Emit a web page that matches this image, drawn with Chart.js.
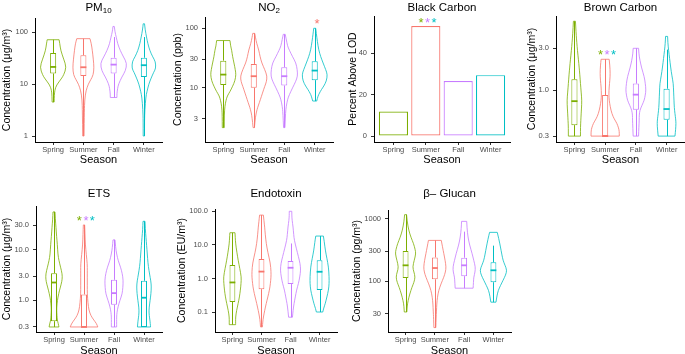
<!DOCTYPE html>
<html>
<head>
<meta charset="utf-8">
<script src="https://cdn.jsdelivr.net/npm/chart.js@4.4.0/dist/chart.umd.min.js"></script>
<style>
html, body { margin: 0; padding: 0; background: #fff; }
#wrap { position: relative; width: 685px; height: 354px; overflow: hidden; }
#wrap canvas { position: absolute; }
</style>
</head>
<body>
<div id="wrap"></div>
<script>
const SEASONS = ['Spring', 'Summer', 'Fall', 'Winter'];
const SEASON_COLORS = ['#7CAE00', '#F8766D', '#C77CFF', '#00BFC4'];

// boxes: [lower whisker, q1, median, q3, upper whisker] per season
// violins: [value, density] pairs from top to bottom, per season
// stars: [x position, value, colour index]

const PM10_TICKS = [1, 10, 100];
const PM10_TICK_LABELS = ['1', '10', '100'];
const PM10_BOXES = [[4.5, 15.9, 21.3, 39.5, 71], [1, 14.3, 21, 35.7, 74.5], [5.5, 16, 23.6, 32, 80], [1, 13.7, 23, 32, 80]];
const PM10_VIOLINS = [
    [[71, 18], [60, 20], [44, 23], [30, 32], [21, 40], [15, 32], [12.7, 25], [9.5, 10], [7.6, 5], [6, 3.5], [4.5, 3]],
    [[74.5, 20], [60, 24], [44, 27], [30, 30], [21, 32], [15, 30], [12, 22], [10, 15], [7.5, 8], [5, 4], [3, 3], [1, 2]],
    [[128, 2], [100, 4], [80, 8], [60, 12], [44, 20], [33, 30], [25, 40], [18, 36], [13.7, 25], [10, 15], [8.2, 12], [6.5, 10], [5.5, 10]],
    [[144, 2], [110, 4], [80, 8], [60, 12], [44, 18], [33, 27], [27, 35], [20, 36], [17, 30], [13, 22], [10, 15], [7, 9], [5.6, 6], [3.2, 3], [2, 2], [1, 2]]
];

const NO2_TICKS = [3, 10, 30, 100];
const NO2_TICK_LABELS = ['3', '10', '30', '100'];
const NO2_BOXES = [[2.1, 11, 16.5, 28.4, 62], [2.1, 9.9, 15.5, 25, 82], [2.1, 10.8, 15.5, 22, 79], [5.9, 13.3, 19.3, 27.6, 100]];
const NO2_VIOLINS = [
    [[62, 20], [50, 22], [43, 25], [33, 28], [26, 32], [20, 36], [16.5, 38], [13, 35], [10.5, 28], [8.5, 20], [7.2, 12], [6, 8], [4.9, 5], [3.5, 3], [2.1, 3]],
    [[82, 3], [70, 5], [55, 9], [43, 15], [33, 19], [26, 24], [20, 33], [15.5, 40], [12.5, 38], [10.5, 33], [8, 26], [6.3, 20], [5, 14], [4.3, 10], [3.2, 5], [2.1, 2]],
    [[79, 3], [65, 6], [50, 10], [43, 15], [33, 25], [26, 35], [20, 39], [15.5, 40], [12.5, 34], [9.9, 25], [7.5, 15], [6.3, 10], [4.8, 6], [3.8, 4], [2.1, 2]],
    [[100, 3], [80, 5], [60, 8], [43, 12], [33, 18], [26, 25], [20, 33], [16.5, 38], [12.8, 35], [10.5, 27], [9.2, 20], [8, 14], [7.2, 10], [5.9, 6]]
];
const NO2_STARS = [[4.08, 138, 1]];

const BC_TICKS = [0, 20, 40];
const BC_TICK_LABELS = ['0', '20', '40'];
const BC_PERCENT = [11.8, 53.2, 26.6, 29.4];
const BC_STARS = [[1.85, 56.6, 0], [2.05, 56.6, 2], [2.25, 56.6, 3]];

const BRC_TICKS = [0.3, 1, 3];
const BRC_TICK_LABELS = ['0.3', '1.0', '3.0'];
const BRC_BOXES = [[0.3, 0.4, 0.75, 1.33, 6.1], [0.3, 0.3, 0.3, 0.88, 2.25], [0.3, 0.6, 0.89, 1.19, 3.0], [0.3, 0.46, 0.61, 1.04, 2.9]];
const BRC_VIOLINS = [
    [[6.1, 3], [4.4, 5], [3.5, 7], [2.85, 9], [2.2, 12], [1.84, 14], [1.5, 16], [1.19, 18], [0.95, 20], [0.77, 22], [0.62, 21], [0.54, 20], [0.45, 19], [0.38, 18], [0.3, 18]],
    [[2.25, 12], [1.9, 14], [1.55, 15], [1.3, 14], [1.09, 12], [0.9, 11], [0.77, 12], [0.65, 15], [0.54, 20], [0.47, 27], [0.42, 35], [0.37, 40], [0.34, 42], [0.3, 42]],
    [[3.0, 8], [2.6, 9], [2.2, 12], [1.8, 17], [1.42, 25], [1.2, 28], [1.0, 30], [0.88, 28], [0.77, 25], [0.67, 18], [0.59, 12], [0.52, 10], [0.46, 10], [0.38, 9], [0.3, 8]],
    [[4.1, 3], [3.4, 4], [2.85, 6], [2.3, 9], [1.84, 12], [1.45, 16], [1.19, 20], [0.95, 21], [0.77, 22], [0.63, 23], [0.54, 25], [0.47, 27], [0.42, 28], [0.36, 27], [0.3, 25]]
];
const BRC_STARS = [[1.85, 2.8, 0], [2.06, 2.8, 2], [2.27, 2.8, 3]];

const ETS_TICKS = [0.3, 1, 3, 10, 30];
const ETS_TICK_LABELS = ['0.3', '1.0', '3.0', '10.0', '30.0'];
const ETS_BOXES = [[0.3, 0.39, 2.25, 3.43, 55], [0.3, 0.3, 0.3, 1.31, 30.5], [0.3, 0.82, 1.39, 2.54, 15.5], [0.3, 0.3, 1.13, 2.43, 36]];
const ETS_VIOLINS = [
    [[55, 3], [40, 4], [27.4, 6], [18, 8], [12.9, 10], [8, 12], [6.1, 15], [4.5, 20], [3.3, 25], [2.6, 25], [2.1, 22], [1.6, 17], [1.16, 12], [0.85, 9], [0.64, 8], [0.5, 9], [0.41, 10], [0.35, 13], [0.3, 15]],
    [[30.5, 2], [20, 3], [12.9, 4], [8, 7], [5.2, 10], [3.8, 10], [2.9, 10], [2, 10], [1.35, 10], [0.9, 12], [0.64, 15], [0.5, 21], [0.41, 30], [0.35, 38], [0.3, 42]],
    [[15.5, 3], [11, 5], [8.2, 8], [6, 13], [4.5, 20], [3.4, 25], [2.5, 28], [1.8, 27], [1.35, 25], [1.0, 18], [0.74, 12], [0.58, 9], [0.47, 8], [0.38, 8], [0.3, 8]],
    [[36, 3], [25, 4], [17.4, 6], [12, 8], [8.2, 10], [5.5, 12], [3.9, 15], [2.8, 19], [2.1, 22], [1.6, 22], [1.16, 20], [0.85, 17], [0.64, 15], [0.5, 16], [0.41, 18], [0.35, 19], [0.3, 20]]
];
const ETS_STARS = [[1.84, 44, 0], [2.07, 44, 2], [2.28, 44, 3]];

const ENDO_TICKS = [0.1, 1, 10, 100];
const ENDO_TICK_LABELS = ['0.1', '1.0', '10.0', '100.0'];
const ENDO_BOXES = [[0.042, 0.2, 0.76, 2.5, 23], [0.036, 0.48, 1.6, 3.8, 77], [0.07, 0.68, 2.08, 3.3, 11], [0.1, 0.45, 1.58, 3.5, 18.3]];
const ENDO_VIOLINS = [
    [[23, 8], [16, 9], [11, 10], [6, 14], [3.5, 18], [2, 23], [1.1, 28], [0.7, 27], [0.45, 25], [0.28, 22], [0.18, 18], [0.11, 13], [0.07, 10], [0.05, 10], [0.042, 10]],
    [[77, 6], [50, 8], [34.5, 10], [20, 12], [11, 15], [6, 20], [2.8, 28], [1.6, 30], [1.1, 30], [0.7, 28], [0.45, 25], [0.28, 20], [0.18, 15], [0.11, 10], [0.07, 6], [0.05, 4], [0.036, 3]],
    [[100, 4], [75, 4], [54, 5], [34.5, 8], [20, 10], [13.9, 12], [8, 18], [4.4, 25], [2.8, 30], [1.77, 32], [1.1, 29], [0.71, 25], [0.45, 19], [0.28, 15], [0.18, 11], [0.11, 8], [0.07, 6]],
    [[18.3, 12], [12, 15], [7, 18], [4, 23], [2.2, 28], [1.1, 30], [0.7, 30], [0.45, 28], [0.28, 23], [0.18, 18], [0.13, 13], [0.1, 10]]
];

const GLU_TICKS = [30, 100, 300, 1000];
const GLU_TICK_LABELS = ['30', '100', '300', '1000'];
const GLU_BOXES = [[32, 112, 179, 303, 1160], [18, 107, 162, 240, 449], [77, 120, 179, 237, 620], [46, 96, 149, 200, 370]];
const GLU_VIOLINS = [
    [[1160, 3], [900, 5], [650, 10], [500, 17], [397, 25], [320, 30], [275, 32], [215, 27], [168, 22], [140, 26], [116, 30], [95, 26], [80, 20], [62, 13], [49, 8], [40, 5], [32, 4]],
    [[449, 20], [350, 24], [275, 28], [215, 32], [168, 35], [140, 33], [116, 28], [90, 19], [71, 12], [55, 8], [43, 6], [33, 5], [26, 4], [18, 3]],
    [[906, 8], [700, 9], [507, 12], [380, 17], [275, 25], [215, 30], [168, 35], [140, 34], [116, 30], [95, 29], [77, 28]],
    [[604, 12], [470, 17], [351, 22], [270, 26], [215, 30], [180, 36], [149, 42], [125, 38], [103, 30], [85, 22], [71, 15], [58, 11], [46, 8]]
];

const FONT = "'Liberation Sans', Arial, sans-serif";
const DENS_PEAK = 42;     // density value drawn at the widest half-width
const HALF_WIDTH = 0.46;  // widest half-width, in x units
const BOX_HALF = 0.1;

Chart.defaults.font.family = FONT;
Chart.defaults.color = '#4D4D4D';

// layout of each panel (canvas box and plot area)
const panels = [
    { title: [['PM', 0], ['10', 1]], yTitle: 'Concentration (μg/m³)', left: 0, top: 0, w: 170, h: 177,
      padTop: 18, padRight: 8, yW: 35, xH: 35, yTitlePad: 1.2, titleY: 8, seasonPad: 10.4,
      log: true, min: 0.767, max: 186, ticks: PM10_TICKS, labels: PM10_TICK_LABELS, boxes: PM10_BOXES, violins: PM10_VIOLINS },
    { title: [['NO', 0], ['2', 1]], yTitle: 'Concentration (ppb)', left: 170, top: 0, w: 170, h: 177,
      padTop: 17, padRight: 7, yW: 35, xH: 35, yTitlePad: 1.7, titleY: 8, seasonPad: 10.4,
      log: true, min: 1.2, max: 155, ticks: NO2_TICKS, labels: NO2_TICK_LABELS, boxes: NO2_BOXES, violins: NO2_VIOLINS, stars: NO2_STARS },
    { title: [['Black Carbon', 0]], yTitle: 'Percent Above LOD', left: 340, top: 0, w: 172, h: 177,
      padTop: 16, padRight: 2, yW: 34, xH: 35, yTitlePad: 6.7, titleY: 8, seasonPad: 10.4,
      log: false, min: -2.9, max: 58, ticks: BC_TICKS, labels: BC_TICK_LABELS, bars: BC_PERCENT, stars: BC_STARS },
    { title: [['Brown Carbon', 0]], yTitle: 'Concentration (μg/m³)', left: 512, top: 0, w: 173, h: 177,
      padTop: 16, padRight: 0, yW: 44, xH: 35, yTitlePad: 13.7, titleY: 8, seasonPad: 10.4,
      log: true, min: 0.257, max: 7.0, ticks: BRC_TICKS, labels: BRC_TICK_LABELS, boxes: BRC_BOXES, violins: BRC_VIOLINS, stars: BRC_STARS },
    { title: [['ETS', 0]], yTitle: 'Concentration (μg/m³)', left: 0, top: 177, w: 170, h: 177,
      padTop: 29, padRight: 8, yW: 36, xH: 22, yTitlePad: 0.7, titleY: 17, seasonPad: -4,
      log: true, min: 0.239, max: 72, ticks: ETS_TICKS, labels: ETS_TICK_LABELS, boxes: ETS_BOXES, violins: ETS_VIOLINS, stars: ETS_STARS },
    { title: [['Endotoxin', 0]], yTitle: 'Concentration (EU/m³)', left: 170, top: 177, w: 175, h: 177,
      padTop: 32, padRight: 8, yW: 45, xH: 22, yTitlePad: 5.7, titleY: 17, seasonPad: -4,
      log: true, min: 0.0254, max: 117, ticks: ENDO_TICKS, labels: ENDO_TICK_LABELS, boxes: ENDO_BOXES, violins: ENDO_VIOLINS },
    { title: [['β– Glucan', 0]], yTitle: 'Concentration (pg/m³)', left: 345, top: 177, w: 180, h: 177,
      padTop: 33, padRight: 14, yW: 43, xH: 22, yTitlePad: 5.7, titleY: 17, seasonPad: -4,
      log: true, min: 15.3, max: 1378, ticks: GLU_TICKS, labels: GLU_TICK_LABELS, boxes: GLU_BOXES, violins: GLU_VIOLINS }
];

// stroke a smooth curve through pts (continuing the current path)
function smoothThrough(ctx, pts) {
    ctx.lineTo(pts[0].x, pts[0].y);
    for (let i = 1; i < pts.length - 1; i++) {
        const mx = (pts[i].x + pts[i + 1].x) / 2;
        const my = (pts[i].y + pts[i + 1].y) / 2;
        ctx.quadraticCurveTo(pts[i].x, pts[i].y, mx, my);
    }
    const last = pts[pts.length - 1];
    ctx.lineTo(last.x, last.y);
}

function panelPlugin(P) {
    return {
        id: 'panelMarks',
        beforeDatasetsDraw(chart) {
            const ctx = chart.ctx;
            const x = chart.scales.x, y = chart.scales.y;
            const unit = x.getPixelForValue(2) - x.getPixelForValue(1);
            ctx.save();
            if (P.violins) {
                P.violins.forEach((shape, i) => {
                    const cx = x.getPixelForValue(i + 1);
                    const half = d => d / DENS_PEAK * HALF_WIDTH * unit;
                    const right = shape.map(([v, d]) => ({ x: cx + half(d), y: y.getPixelForValue(v) }));
                    const left = shape.map(([v, d]) => ({ x: cx - half(d), y: y.getPixelForValue(v) })).reverse();
                    ctx.beginPath();
                    ctx.moveTo(left[left.length - 1].x, left[left.length - 1].y);
                    smoothThrough(ctx, right);
                    smoothThrough(ctx, left);
                    ctx.closePath();
                    ctx.strokeStyle = SEASON_COLORS[i];
                    ctx.lineWidth = 0.8;
                    ctx.stroke();
                });
            }
            if (P.boxes) {
                P.boxes.forEach((b, i) => {
                    const cx = Math.round(x.getPixelForValue(i + 1)) + 0.5;
                    ctx.beginPath();
                    ctx.moveTo(cx, y.getPixelForValue(b[0]));
                    ctx.lineTo(cx, y.getPixelForValue(b[1]));
                    ctx.moveTo(cx, y.getPixelForValue(b[3]));
                    ctx.lineTo(cx, y.getPixelForValue(b[4]));
                    ctx.strokeStyle = SEASON_COLORS[i];
                    ctx.lineWidth = 1;
                    ctx.stroke();
                });
            }
            ctx.restore();
        },
        afterDatasetsDraw(chart) {
            const ctx = chart.ctx;
            const x = chart.scales.x, y = chart.scales.y;
            const unit = x.getPixelForValue(2) - x.getPixelForValue(1);
            ctx.save();
            if (P.boxes) {
                P.boxes.forEach((b, i) => {
                    const cx = x.getPixelForValue(i + 1);
                    const my = y.getPixelForValue(b[2]);
                    ctx.beginPath();
                    ctx.moveTo(cx - BOX_HALF * unit, my);
                    ctx.lineTo(cx + BOX_HALF * unit, my);
                    ctx.strokeStyle = SEASON_COLORS[i];
                    ctx.lineWidth = 1.8;
                    ctx.stroke();
                });
            }
            (P.stars || []).forEach(([sx, sv, c]) => {
                ctx.font = '13px ' + FONT;
                ctx.fillStyle = SEASON_COLORS[c];
                ctx.textAlign = 'center';
                ctx.textBaseline = 'alphabetic';
                ctx.fillText('*', x.getPixelForValue(sx), y.getPixelForValue(sv) + 7.8);
            });
            ctx.restore();
        },
        afterDraw(chart) {
            const ctx = chart.ctx;
            const area = chart.chartArea;
            ctx.save();
            ctx.fillStyle = '#000';
            ctx.textBaseline = 'middle';
            ctx.textAlign = 'left';
            const fontFor = sub => (sub ? '8px ' : '11.5px ') + FONT;
            let total = 0;
            P.title.forEach(([t, sub]) => { ctx.font = fontFor(sub); total += ctx.measureText(t).width; });
            let tx = (area.left + area.right) / 2 - total / 2;
            P.title.forEach(([t, sub]) => {
                ctx.font = fontFor(sub);
                ctx.fillText(t, tx, P.titleY + (sub ? 3 : 0));
                tx += ctx.measureText(t).width;
            });
            ctx.restore();
        }
    };
}

const wrap = document.getElementById('wrap');

panels.forEach(P => {
    const canvas = document.createElement('canvas');
    canvas.width = P.w;
    canvas.height = P.h;
    canvas.style.left = P.left + 'px';
    canvas.style.top = P.top + 'px';
    canvas.style.width = P.w + 'px';
    canvas.style.height = P.h + 'px';
    wrap.appendChild(canvas);

    let datasets;
    if (P.bars) {
        datasets = [{
            data: P.bars.map((v, i) => ({ x: i + 1, y: v })),
            backgroundColor: '#fff',
            borderColor: SEASON_COLORS,
            borderWidth: 1.2,
            borderSkipped: false,
            barPercentage: 0.9,
            categoryPercentage: 1
        }];
    } else {
        datasets = [{
            data: P.boxes.map((b, i) => ({ x: i + 1, y: [b[1], b[3]] })),
            backgroundColor: '#fff',
            borderColor: SEASON_COLORS,
            borderWidth: 1,
            borderSkipped: false,
            barPercentage: 0.2,
            categoryPercentage: 1
        }];
    }

    new Chart(canvas, {
        type: 'bar',
        data: { datasets: datasets },
        options: {
            responsive: false,
            animation: false,
            events: [],
            layout: { padding: { top: P.padTop, right: P.padRight, left: 0, bottom: 0 } },
            plugins: {
                legend: { display: false },
                tooltip: { enabled: false },
                title: { display: false }
            },
            scales: {
                x: {
                    type: 'linear',
                    min: 0.4,
                    max: 4.6,
                    offset: false,
                    afterBuildTicks: s => { s.ticks = [1, 2, 3, 4].map(v => ({ value: v })); },
                    afterFit: s => { s.height = P.xH; },
                    ticks: {
                        autoSkip: false,
                        maxRotation: 0,
                        minRotation: 0,
                        padding: 0,
                        font: { size: 7.5 },
                        color: '#4D4D4D',
                        callback: v => SEASONS[v - 1]
                    },
                    grid: { display: true, drawOnChartArea: false, drawTicks: true, tickLength: 3, color: '#333', offset: false },
                    border: { display: true, color: '#000', width: 1 },
                    title: { display: true, text: 'Season', color: '#000', font: { size: 11 }, padding: { top: 0, bottom: P.seasonPad } }
                },
                y: {
                    type: P.log ? 'logarithmic' : 'linear',
                    min: P.min,
                    max: P.max,
                    afterBuildTicks: s => { s.ticks = P.ticks.map(v => ({ value: v })); },
                    afterFit: s => { s.width = P.yW; },
                    ticks: {
                        autoSkip: false,
                        padding: 4,
                        font: { size: 7.5 },
                        color: '#4D4D4D',
                        callback: (v, i) => P.labels[i]
                    },
                    grid: { display: true, drawOnChartArea: false, drawTicks: true, tickLength: 3, color: '#333' },
                    border: { display: true, color: '#000', width: 1 },
                    title: { display: true, text: P.yTitle, color: '#000', font: { size: 10.5 }, padding: { top: P.yTitlePad, bottom: 0 } }
                }
            }
        },
        plugins: [panelPlugin(P)]
    });
});
</script>
</body>
</html>
